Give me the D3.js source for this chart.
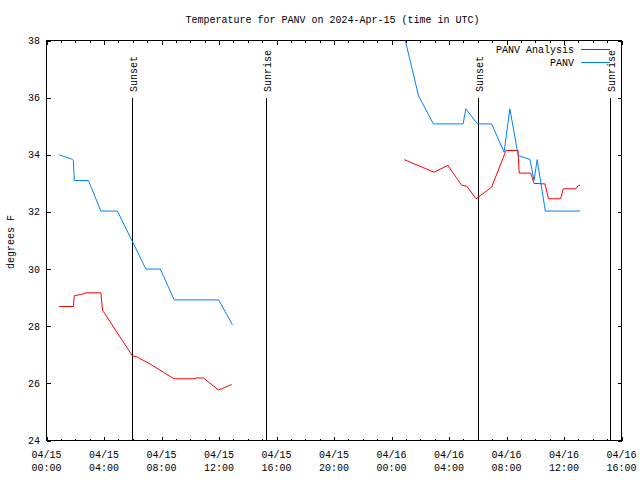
<!DOCTYPE html>
<html><head><meta charset="utf-8">
<script src="https://cdn.jsdelivr.net/npm/d3@7"></script>
<style>
body{margin:0;background:#fff;}
svg text{font-family:"Liberation Mono","DejaVu Sans Mono",monospace;font-size:10px;fill:#000;}
</style></head><body>
<svg id="c" width="640" height="480"></svg>
<script>
const title = "Temperature for PANV on 2024-Apr-15 (time in UTC)";
const yLabel = "degrees F";
const seriesNames = ["PANV Analysis", "PANV"];
const seriesColors = ["#ff0000", "#0080ff"];
const xDomain = ["2024-04-15 00:00", "2024-04-16 16:00"];
const yDomain = [24, 38];
const yTicks = [24, 26, 28, 30, 32, 34, 36, 38];

// PANV observations (null = gap)
const panvTimes = ["2024-04-15 00:53","2024-04-15 01:48","2024-04-15 01:52","2024-04-15 01:56","2024-04-15 02:55","2024-04-15 03:47","2024-04-15 04:56","2024-04-15 06:55","2024-04-15 07:55","2024-04-15 08:53","2024-04-15 11:59","2024-04-15 12:56",
  "2024-04-15 18:00",
  "2024-04-16 00:52","2024-04-16 01:53","2024-04-16 02:55","2024-04-16 04:59","2024-04-16 05:10","2024-04-16 05:59","2024-04-16 06:58","2024-04-16 07:50","2024-04-16 08:14","2024-04-16 08:49","2024-04-16 09:38","2024-04-16 09:55","2024-04-16 10:08","2024-04-16 10:42","2024-04-16 13:07"];
const panvTemps = [34.0,33.84,33.8,33.1,33.1,32.03,32.03,30.0,30.0,28.92,28.92,28.05,
  null,
  38.2,36.06,35.08,35.08,35.61,35.08,35.08,34.09,35.61,33.97,33.84,33.1,33.83,32.03,32.03];

// PANV Analysis (null = gap)
const analysisTimes = ["2024-04-15 00:53","2024-04-15 01:52","2024-04-15 01:56","2024-04-15 02:23","2024-04-15 02:45","2024-04-15 03:47","2024-04-15 03:54","2024-04-15 04:04","2024-04-15 05:58","2024-04-15 06:19","2024-04-15 07:12","2024-04-15 08:52","2024-04-15 10:20","2024-04-15 10:24","2024-04-15 10:55","2024-04-15 11:57","2024-04-15 12:11","2024-04-15 12:53",
  "2024-04-15 18:00",
  "2024-04-16 00:53","2024-04-16 02:58","2024-04-16 03:55","2024-04-16 04:53","2024-04-16 05:14","2024-04-16 05:53","2024-04-16 06:58","2024-04-16 07:58","2024-04-16 08:48","2024-04-16 08:53","2024-04-16 09:41","2024-04-16 09:55","2024-04-16 10:41","2024-04-16 10:55","2024-04-16 11:46","2024-04-16 11:57","2024-04-16 12:50","2024-04-16 13:00","2024-04-16 13:07"];
const analysisTemps = [28.69,28.69,29.07,29.11,29.17,29.17,28.55,28.43,26.97,26.92,26.68,26.16,26.16,26.19,26.19,25.77,25.81,25.96,
  null,
  33.83,33.39,33.63,32.93,32.9,32.46,32.87,34.15,34.15,33.36,33.36,33.0,32.98,32.46,32.46,32.81,32.81,32.93,32.93];

const sunTimes = ["2024-04-15 05:58","2024-04-15 15:18","2024-04-16 06:02","2024-04-16 15:13"];
const sunLabels = ["Sunset","Sunrise","Sunset","Sunrise"];

const parse = d3.utcParse("%Y-%m-%d %H:%M");
const L = 46.5, R = 621.5, T = 40.5, B = 440.5;
const x = d3.scaleUtc().domain(xDomain.map(parse)).range([L, R]);
const y = d3.scaleLinear().domain(yDomain).range([B, T]);
const svg = d3.select("#c");

svg.append("text").attr("x", 332.5).attr("y", 23).attr("text-anchor", "middle").text(title);

svg.append("defs").append("clipPath").attr("id", "clip")
  .append("rect").attr("x", L).attr("y", T).attr("width", R - L).attr("height", B - T);

// axes
const fmtD = d3.utcFormat("%m/%d"), fmtT = d3.utcFormat("%H:%M");
const gBottomMinor = svg.append("g").attr("transform", `translate(0,${B})`)
  .call(d3.axisBottom(x).ticks(d3.utcHour.every(1)).tickSize(-2).tickSizeOuter(0).tickFormat(""));
const gTopMinor = svg.append("g").attr("transform", `translate(0,${T})`)
  .call(d3.axisTop(x).ticks(d3.utcHour.every(1)).tickSize(-2).tickSizeOuter(0).tickFormat(""));
const gBottom = svg.append("g").attr("transform", `translate(0,${B})`)
  .call(d3.axisBottom(x).ticks(d3.utcHour.every(4)).tickSize(-4).tickSizeOuter(0).tickFormat(""));
const gTop = svg.append("g").attr("transform", `translate(0,${T})`)
  .call(d3.axisTop(x).ticks(d3.utcHour.every(4)).tickSize(-4).tickSizeOuter(0).tickFormat(""));
const gLeft = svg.append("g").attr("transform", `translate(${L},0)`)
  .call(d3.axisLeft(y).tickValues(yTicks).tickSize(-4).tickSizeOuter(0).tickFormat(""));
const gRight = svg.append("g").attr("transform", `translate(${R},0)`)
  .call(d3.axisRight(y).tickValues(yTicks).tickSize(-4).tickSizeOuter(0).tickFormat(""));
[gBottomMinor, gTopMinor, gBottom, gTop, gLeft, gRight].forEach(g => {
  g.select(".domain").remove();
  g.selectAll("line").attr("stroke", "#000").attr("shape-rendering", "crispEdges");
});

// tick labels
x.ticks(d3.utcHour.every(4)).forEach(t => {
  const tx = svg.append("text").attr("x", x(t)).attr("text-anchor", "middle");
  tx.append("tspan").attr("x", x(t)).attr("y", 458).text(fmtD(t));
  tx.append("tspan").attr("x", x(t)).attr("y", 471).text(fmtT(t));
});
yTicks.forEach(v => {
  svg.append("text").attr("x", 40).attr("y", y(v) + 3.5).attr("text-anchor", "end").text(v);
});
svg.append("text").attr("transform", "translate(14,242) rotate(-90)")
  .attr("text-anchor", "middle").text(yLabel);

// sunrise/sunset
sunTimes.forEach((s, i) => {
  const sx = Math.round(x(parse(s)) - 0.5) + 0.5;
  svg.append("line").attr("x1", sx).attr("x2", sx).attr("y1", 98).attr("y2", B)
    .attr("stroke", "#000").attr("shape-rendering", "crispEdges");
  svg.append("text").attr("transform", `translate(${sx + 4.5},92) rotate(-90)`)
    .attr("text-anchor", "start").text(sunLabels[i]);
});

// border
svg.append("rect").attr("x", L).attr("y", T).attr("width", R - L).attr("height", B - T)
  .attr("fill", "none").attr("stroke", "#000").attr("shape-rendering", "crispEdges");

// series
const line = d3.line().defined(d => d[1] !== null).x(d => x(d[0])).y(d => y(d[1]));
const series = [
  analysisTimes.map((t, i) => [parse(t), analysisTemps[i]]),
  panvTimes.map((t, i) => [parse(t), panvTemps[i]])
];
series.forEach((d, i) => {
  svg.append("path").datum(d).attr("clip-path", "url(#clip)")
    .attr("fill", "none").attr("stroke", seriesColors[i]).attr("stroke-width", 1).attr("d", line);
});

// legend
seriesNames.forEach((n, i) => {
  const ly = 49.5 + i * 13;
  svg.append("text").attr("x", 574).attr("y", ly + 3.5).attr("text-anchor", "end").text(n);
  svg.append("line").attr("x1", 581).attr("x2", 610).attr("y1", ly).attr("y2", ly)
    .attr("stroke", seriesColors[i]).attr("shape-rendering", "crispEdges");
});
</script></body></html>
